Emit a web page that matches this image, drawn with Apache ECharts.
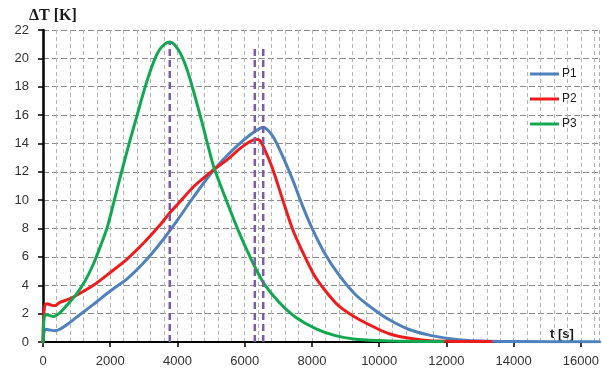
<!DOCTYPE html>
<html>
<head>
<meta charset="utf-8">
<script src="https://cdn.jsdelivr.net/npm/echarts@6/dist/echarts.min.js"></script>
<style>
html,body{margin:0;padding:0;background:#fff;}
#c{width:602px;height:368px;}
</style>
</head>
<body>
<div id="c"></div>
<script>
// ---- data (time in s, temperature rise in K) ----
const seriesNames = ['P1', 'P2', 'P3'];

const p1Time = [0, 30, 80, 200, 350, 500, 700, 1000, 1500, 2000, 2500, 3000, 3500, 4000, 4500, 5000, 5500, 6000, 6300, 6550, 6825, 7120, 7416, 7711, 8007, 8404, 8797, 9290, 9783, 10277, 10869, 11460, 12052, 12644, 13300, 14000, 16550];
const p1Val  = [0, 0.7, 0.9, 0.85, 0.8, 0.9, 1.2, 1.75, 2.65, 3.6, 4.45, 5.6, 7.0, 8.6, 10.3, 11.9, 13.2, 14.3, 14.85, 15.15, 14.55, 13.15, 11.5, 9.65, 8.0, 6.15, 4.75, 3.35, 2.4, 1.6, 0.9, 0.5, 0.25, 0.1, 0.05, 0.03, 0.02];

const p2Time = [0, 20, 60, 120, 250, 350, 500, 750, 1000, 1500, 2000, 2500, 3000, 3500, 3767, 4000, 4500, 5000, 5500, 5838, 6100, 6330, 6450, 6578, 6825, 7120, 7416, 7711, 8058, 8404, 8797, 9389, 9981, 10277, 10671, 11263, 11950, 13330];
const p2Val  = [0, 1.8, 2.6, 2.7, 2.6, 2.55, 2.8, 3.0, 3.3, 4.0, 4.9, 5.85, 7.0, 8.3, 9.1, 9.7, 11.0, 12.0, 12.9, 13.6, 14.05, 14.3, 14.2, 13.65, 12.25, 10.1, 8.0, 6.4, 4.75, 3.6, 2.55, 1.6, 0.9, 0.6, 0.35, 0.15, 0.05, 0.03];

const p3Time = [0, 20, 60, 150, 300, 500, 750, 1000, 1250, 1500, 1700, 1900, 2100, 2337, 2563, 2800, 3027, 3250, 3450, 3620, 3770, 3920, 4100, 4300, 4500, 4750, 5000, 5100, 5500, 5838, 6100, 6300, 6578, 7022, 7516, 8108, 8700, 9290, 9981, 10600, 11900];
const p3Val  = [0, 1.3, 1.9, 1.9, 1.8, 2.05, 2.7, 3.4, 4.3, 5.5, 6.7, 8.0, 9.8, 12.0, 14.0, 16.0, 17.9, 19.5, 20.55, 21.0, 21.15, 20.95, 20.3, 19.1, 17.5, 15.3, 13.0, 12.2, 9.7, 7.7, 6.3, 5.3, 4.1, 2.8, 1.75, 0.95, 0.45, 0.2, 0.1, 0.05, 0.03];

const markerTime = [3770, 6300, 6550];
const markerTop  = [21.1, 20.9, 20.9];

const yTicksMax = 22;
const xMax = 16550;

// ---- chart ----
const colors = ['#4F81BD', '#EE1C1C', '#12A850'];
const zip = (t, v) => t.map((x, i) => [x, v[i]]);
const curves = [zip(p1Time, p1Val), zip(p2Time, p2Val), zip(p3Time, p3Val)];

const series = curves.map((d, i) => ({
  name: seriesNames[i],
  type: 'line',
  xAxisIndex: 0,
  data: d,
  smooth: 0.25,
  showSymbol: false,
  symbol: 'none',
  lineStyle: { color: colors[i], width: 3, join: 'round', cap: 'round' },
  itemStyle: { color: colors[i] },
  z: 3 + i
}));

markerTime.forEach((t, i) => {
  series.push({
    name: 'marker' + i,
    type: 'line',
    xAxisIndex: 0,
    data: [[t, 0], [t, markerTop[i]]],
    showSymbol: false,
    symbol: 'none',
    silent: true,
    lineStyle: { color: '#7E5AAA', width: 2.5, type: [7, 4] },
    z: 10
  });
});

const chart = echarts.init(document.getElementById('c'), null, { renderer: 'canvas' });
chart.setOption({
  animation: false,
  backgroundColor: '#ffffff',
  grid: { left: 43, right: 0, top: 30, bottom: 23.3, containLabel: false },
  legend: {
    data: seriesNames,
    orient: 'vertical',
    left: 530,
    top: 67,
    padding: 0,
    icon: 'rect',
    itemWidth: 29,
    itemHeight: 3,
    itemGap: 11,
    textStyle: { fontFamily: 'Liberation Sans', fontSize: 12, color: '#222', lineHeight: 14, padding: [0, 0, 0, -2] }
  },
  xAxis: [{
    type: 'value',
    min: 0,
    max: xMax,
    interval: 2000,
    axisLine: { show: true, onZero: false, lineStyle: { color: '#000', width: 2 } },
    axisTick: { show: true, length: 5, lineStyle: { color: '#000', width: 1.5 } },
    axisLabel: {
      margin: 13,
      fontFamily: 'Liberation Sans',
      fontSize: 13,
      color: '#333',
      showMaxLabel: false,
      formatter: v => (v % 2000 === 0 ? String(v) : '')
    },
    splitLine: { show: false }
  }, {
    type: 'value',
    min: 0,
    max: xMax,
    interval: 400,
    position: 'bottom',
    axisLine: { show: false },
    axisTick: { show: false },
    axisLabel: { show: false },
    splitLine: { show: true, lineStyle: { color: '#b4b4b4', width: 1, type: [4, 3] } }
  }],
  yAxis: {
    type: 'value',
    min: 0,
    max: yTicksMax,
    interval: 2,
    axisLine: { show: true, lineStyle: { color: '#000', width: 2.5 } },
    axisTick: { show: true, length: 5, lineStyle: { color: '#000', width: 1.5 } },
    axisLabel: { margin: 14, fontFamily: 'Liberation Sans', fontSize: 13, color: '#333' },
    splitLine: { show: true, lineStyle: { color: '#8c8c8c', width: 1, type: [6, 3] } }
  },
  graphic: [
    {
      type: 'text', left: 29, top: 8,
      style: { text: 'ΔT [K]', font: 'bold 16px "Liberation Serif"', fill: '#1a1a1a' }
    },
    {
      type: 'text', left: 550, top: 328,
      style: { text: 't [s]', font: 'bold 13px "Liberation Sans"', fill: '#1a1a1a' }
    }
  ],
  series: series
});
</script>
</body>
</html>
